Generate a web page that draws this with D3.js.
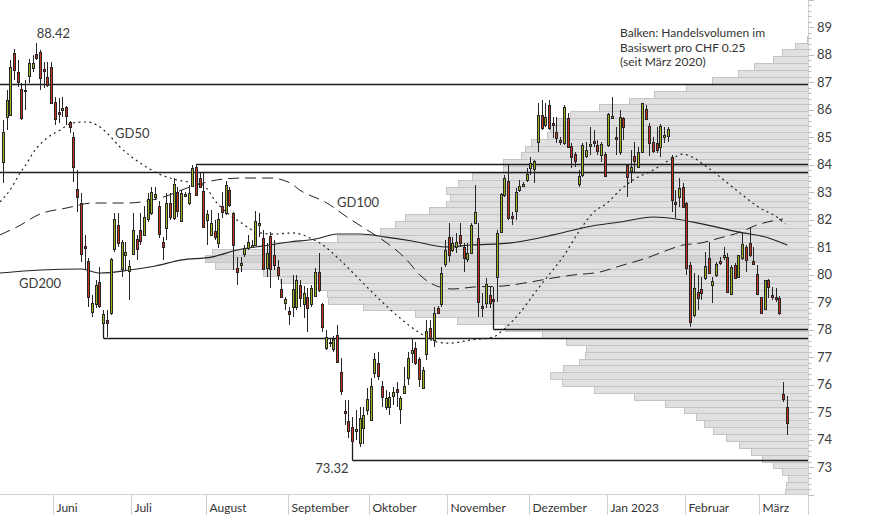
<!DOCTYPE html>
<html><head><meta charset="utf-8">
<script src="https://cdn.jsdelivr.net/npm/d3@7"></script>
<style>
body{margin:0;background:#fff}
svg{display:block;font-family:Lato,'Open Sans',sans-serif}
</style>
</head><body>
<svg id="chart" width="874" height="515"></svg>
<script>
// ---------- DATA ----------
const opens=[84.10,85.74,85.81,88.07,87.38,86.76,86.72,87.23,87.52,88.03,
88.11,87.49,87.20,87.56,86.29,85.92,86.00,86.11,85.56,85.01,
83.12,82.61,81.05,80.50,78.64,78.93,79.74,78.24,78.35,78.61,
80.94,81.81,80.21,80.72,80.14,80.75,81.30,81.63,81.45,82.03,
82.25,82.83,82.50,81.19,81.70,82.61,82.06,83.01,81.96,82.87,
82.61,83.23,83.92,83.52,83.05,81.99,81.45,81.59,81.15,82.50,
82.25,83.08,82.25,80.24,80.35,80.75,80.97,81.01,81.08,81.81,
81.34,80.24,81.41,80.72,80.28,79.48,78.97,78.68,78.82,78.82,
79.63,78.93,79.19,78.93,79.23,80.10,78.93,77.33,77.55,77.30,
77.81,76.46,75.04,74.67,74.46,74.31,73.87,74.42,75.08,74.71,
76.42,76.79,75.95,75.18,75.18,75.58,75.84,75.11,75.69,76.24,
77.15,77.33,76.93,75.88,77.11,78.06,77.62,78.79,78.93,80.39,
81.37,80.90,81.01,81.45,81.01,80.57,80.79,81.88,81.34,78.86,
78.97,79.26,79.12,79.92,81.55,82.90,83.41,82.14,82.32,83.08,
83.23,83.45,83.88,83.85,84.83,85.81,85.45,86.18,85.52,85.19,
84.90,84.79,85.70,84.69,84.39,83.30,83.63,84.32,84.69,84.87,
84.72,84.36,84.39,84.72,85.70,85.01,84.47,85.70,83.99,83.78,
84.32,83.92,84.47,86.03,85.41,84.83,84.79,84.65,85.01,85.05,
84.28,82.65,82.83,83.19,82.61,80.35,78.53,79.37,79.48,79.88,
80.61,79.63,79.99,80.50,80.64,80.64,79.30,80.35,79.92,80.61,
81.01,81.15,80.50,80.03,79.19,78.75,79.81,79.26,79.19,79.15,
75.66,75.18];
const highs=[85.63,86.72,87.82,88.22,87.82,86.98,87.09,87.85,88.00,88.42,
88.18,87.74,87.74,87.74,86.47,86.43,86.47,86.14,85.60,85.19,
83.81,82.97,81.45,80.61,79.26,79.81,80.28,78.72,78.72,80.61,
82.25,82.25,81.26,81.19,80.54,82.25,81.45,82.25,82.50,82.97,
83.19,83.19,82.68,81.37,82.97,82.97,83.52,83.19,83.08,83.01,
83.27,83.99,84.03,83.70,83.70,82.36,82.36,81.99,82.25,83.01,
83.41,83.19,82.28,80.64,80.64,81.08,81.45,81.26,82.32,82.25,
81.63,81.15,81.55,81.26,80.54,79.84,79.19,78.82,79.99,79.99,
79.81,79.59,79.52,79.63,80.24,80.79,78.97,77.99,77.70,77.77,
78.17,76.97,75.44,75.44,74.82,75.08,75.18,75.18,75.88,76.24,
77.15,77.19,76.13,75.80,75.73,75.91,76.09,75.58,76.64,77.19,
77.70,77.55,77.00,76.64,78.35,78.35,78.82,78.86,80.28,81.26,
81.88,81.37,81.52,81.88,81.15,81.15,81.88,83.27,81.88,79.33,
79.88,79.55,79.55,81.63,82.97,83.63,83.99,82.28,83.16,83.45,
83.37,83.88,84.29,84.18,86.25,86.36,86.25,86.36,85.74,85.74,
85.01,86.18,85.89,84.79,84.47,83.81,84.79,84.83,85.38,85.27,
84.90,84.83,84.47,85.89,86.47,85.38,86.00,85.74,83.99,84.54,
84.83,84.65,86.25,86.18,85.52,85.01,85.38,85.49,85.38,85.38,
84.36,83.08,83.52,83.34,82.65,80.46,80.06,79.99,79.92,80.83,
81.19,79.92,80.46,80.64,81.01,80.79,80.35,80.43,80.72,81.52,
81.08,81.74,81.01,80.35,79.19,79.81,79.84,79.55,79.52,79.23,
76.09,75.58];
const lows=[83.34,85.27,85.78,87.09,86.83,85.63,86.00,86.98,87.38,87.82,
86.72,86.80,86.83,86.21,85.45,85.52,85.74,85.45,85.16,83.37,
82.28,80.46,80.17,78.82,78.46,78.79,78.79,78.21,77.73,78.53,
80.83,81.01,79.92,80.17,79.08,80.72,80.54,81.08,81.41,81.92,
82.17,82.72,81.34,80.54,81.26,81.99,81.99,82.10,81.92,82.83,
82.54,83.19,82.87,83.16,81.70,81.08,81.41,81.26,80.97,82.06,
82.17,82.46,80.17,79.63,80.10,80.64,80.90,80.97,81.04,81.37,
80.17,79.92,79.52,80.17,79.81,79.15,78.72,78.17,78.46,78.72,
78.82,78.42,77.91,78.82,79.19,79.37,77.91,77.26,77.37,77.19,
76.82,75.62,74.53,74.06,73.95,73.98,73.73,73.84,74.89,74.71,
76.24,76.17,75.18,75.08,74.89,75.26,75.18,74.57,75.69,75.99,
76.79,76.71,75.91,75.88,76.90,77.62,77.37,78.57,78.82,80.28,
80.46,80.83,80.79,81.01,80.10,80.46,80.79,81.88,78.46,78.46,
78.79,78.79,79.01,79.01,81.52,82.83,81.99,81.81,81.99,83.01,
83.19,83.37,83.63,83.34,84.47,85.27,85.38,85.27,84.98,84.79,
84.72,84.72,84.61,83.88,83.92,83.19,83.56,84.25,84.36,84.65,
84.36,84.10,83.56,84.65,85.70,84.36,84.36,84.90,82.83,83.34,
83.74,83.88,84.43,85.63,84.32,84.43,84.43,84.28,84.79,84.83,
82.28,82.06,82.46,82.46,79.99,78.10,78.46,78.72,79.08,79.81,
80.06,78.97,79.92,80.35,80.54,79.33,79.26,79.84,79.88,80.54,
80.10,80.64,80.35,79.26,78.61,78.72,79.15,79.08,79.01,78.53,
75.37,74.17];
const closes=[85.19,86.36,87.56,87.45,87.02,85.70,86.69,87.71,87.71,87.89,
87.16,87.42,86.91,86.25,85.67,85.85,86.07,85.78,85.38,83.92,
82.83,80.75,80.97,79.19,78.97,79.63,78.86,78.57,78.24,80.57,
82.03,81.15,81.19,80.83,80.32,81.63,80.94,81.23,82.10,82.76,
83.01,82.94,81.48,81.01,82.61,82.10,83.30,82.32,82.97,82.94,
82.97,83.88,82.90,83.19,81.74,82.21,81.88,81.37,82.03,82.28,
83.27,82.54,81.08,80.10,80.43,80.97,81.19,81.08,81.96,81.88,
80.21,80.79,80.21,80.35,79.99,79.19,79.12,78.57,79.48,79.81,
79.15,79.33,78.79,79.52,80.10,79.44,78.10,77.73,77.51,77.66,
76.82,75.77,74.97,74.31,73.95,74.38,74.78,74.89,75.48,75.95,
76.93,76.31,75.55,75.51,75.55,75.73,75.73,75.51,75.95,76.97,
77.26,76.79,76.20,76.53,77.95,77.70,78.61,78.61,80.06,80.90,
80.72,81.15,81.19,81.15,80.61,80.79,81.81,82.28,79.01,78.79,
79.66,78.97,79.04,81.52,82.94,83.52,82.06,82.06,83.01,83.23,
83.30,83.67,84.07,84.14,85.81,85.34,85.74,85.34,85.45,84.98,
84.83,86.11,84.65,84.28,84.14,83.59,84.72,84.54,84.76,84.79,
84.50,84.76,83.59,85.85,85.78,84.94,85.74,85.38,83.56,83.92,
84.14,84.47,86.25,85.67,84.79,84.50,84.54,85.41,85.09,85.30,
82.72,82.57,83.16,82.46,80.24,78.28,79.52,79.15,79.33,80.32,
80.06,79.77,80.39,80.43,80.72,79.37,80.28,79.88,80.72,81.12,
80.54,80.72,80.39,79.30,78.61,79.81,79.55,79.19,79.12,78.61,
75.48,74.60];

// moving averages: [candle index, value]
const gd50=[[-0.9,82.65],[1.8,83.08],[4.5,83.70],[6.4,84.07],[8,84.43],[11.8,84.98],[15.3,85.27],[18.5,85.52],[22.5,85.56],[25.2,85.45],[27.9,85.16],[31.4,84.65],[36.8,84.07],[41.4,83.70],[46.7,83.45],[50.2,83.37],[53.7,83.27],[57.5,82.61],[61,82.17],[63.7,81.92],[68.3,81.55],[72.6,81.48],[78,81.52],[82.5,81.34],[86,81.08],[90.6,80.54],[96,79.81],[101.4,79.08],[106.8,78.42],[112.1,77.88],[116.7,77.55],[120.2,77.51],[125.6,77.62],[131.8,77.73],[134.5,77.99],[139,78.61],[143.6,79.44],[147.9,80.17],[150.6,80.64],[155.2,81.63],[158.7,82.25],[162.5,82.61],[166,83.08],[169.5,83.45],[174.9,83.81],[179.4,84.18],[182.9,84.39],[184.8,84.32],[189.4,83.92],[192.9,83.56],[198.3,82.97],[203.6,82.43],[208.2,82.10],[210.4,81.85]];
const gd100=[[-0.9,81.45],[3.7,81.74],[9.9,82.21],[17.1,82.43],[24.1,82.61],[33.3,82.61],[42.2,82.79],[50.2,83.19],[57.5,83.45],[64.5,83.52],[71.8,83.52],[77.2,83.34],[79.8,83.08],[87.1,82.61],[92.5,82.10],[97.9,81.63],[103.3,81.15],[108.6,80.54],[112.1,79.99],[117.5,79.55],[121,79.48],[126.4,79.55],[134.5,79.59],[141.7,79.73],[147.9,79.88],[153.3,79.99],[160.6,80.10],[166,80.32],[173.2,80.61],[177.5,80.83],[182.9,81.08],[187.5,81.15],[192.9,81.34],[198.3,81.55],[202.8,81.81],[208.2,81.99],[209.8,82.03]];
const gd200=[[-0.9,80.06],[10,80.17],[21,80.21],[26,80.06],[34,80.17],[41,80.32],[48,80.54],[56,80.64],[63,80.90],[70,81.05],[77,81.19],[84,81.30],[90,81.48],[96,81.48],[103,81.37],[110,81.23],[119,81.01],[126,81.08],[136,81.15],[148,81.45],[157,81.74],[166,81.92],[175,82.10],[181,82.03],[188,81.85],[198,81.55],[206,81.34],[211,81.08]];

// volume profile, bars per CHF 0.25 (relative volume), from the lowest band upward
const profileBase=71.95, profileStep=0.25;
const profileVol=[23,22,20,26,35,46,57,69,82,95,104,112,124,143,174,214,246,258,245,229,223,222,242,266,303,351,393,445,480,481,488,528,545,593,603,596,538,471,428,413,403,379,362,358,362,350,336,305,305,287,283,277,261,258,252,238,209,179,154,122,96,70,54,35,26,13,1];

// horizontal level lines: value, start candle (-1 = from the left edge), anchor price on that candle
const levelValues=[86.93,84.03,83.73,78.01,77.69,73.25];
const levelStart=[-1,52,-1,132,27,94];
const levelAnchor=[null,84.03,null,79.01,78.21,73.95];

const monthLabels=["Juni","Juli","August","September","Oktober","November","Dezember","Jan 2023","Februar","März"];
const monthStart=[14,35,55,77,99,120,142,163,184,204];
const yTickLabels=[73,74,75,76,77,78,79,80,81,82,83,84,85,86,87,88,89];

// ---------- CHART ----------
const svg=d3.select("#chart");
const W=874,H=515, plotL=0, plotR=808, plotB=494.5;
const N=opens.length;
const x=d3.scaleLinear().domain([0,N-1]).range([3.3,787.3]);
const y=d3.scaleLinear().domain([72,90]).range([plotB,0]);
const step=x(1)-x(0);
const maxVol=d3.max(profileVol);
const v=d3.scaleLinear().domain([0,maxVol]).range([plotR,205]);

svg.append("defs").append("clipPath").attr("id","clip")
  .append("rect").attr("x",plotL).attr("y",0).attr("width",plotR-plotL).attr("height",plotB);

// volume profile
const maxIdx=profileVol.indexOf(maxVol);
svg.append("g").selectAll("rect").data(profileVol).join("rect")
  .attr("x",d=>v(d)+0.5)
  .attr("y",(d,i)=>Math.round(y(profileBase+profileStep*(i+1)))+0.5)
  .attr("width",d=>plotR-v(d))
  .attr("height",(d,i)=>Math.round(y(profileBase+profileStep*i))-Math.round(y(profileBase+profileStep*(i+1))))
  .attr("fill",(d,i)=>i===maxIdx?"#d2d2d2":"#e0e0e0")
  .attr("stroke","#c4c4c4").attr("stroke-width",1)
  .attr("clip-path","url(#clip)");

// axes lines
svg.append("line").attr("x1",0).attr("x2",plotR).attr("y1",494.5).attr("y2",494.5).attr("stroke","#d0d0d0");
svg.append("line").attr("x1",plotR+0.5).attr("x2",plotR+0.5).attr("y1",0).attr("y2",H).attr("stroke","#d0d0d0");

// y axis ticks
const minor=d3.range(72,90.01,0.2);
svg.append("g").selectAll("line").data(minor).join("line")
  .attr("x1",plotR+0.5).attr("x2",d=>Math.abs(d-Math.round(d))<1e-6?plotR+6:plotR+3.5)
  .attr("y1",d=>Math.round(y(d))+0.5).attr("y2",d=>Math.round(y(d))+0.5)
  .attr("stroke","#bdbdbd");
svg.append("g").selectAll("text").data(yTickLabels).join("text")
  .attr("x",817).attr("y",d=>y(d)).attr("dy","0.35em")
  .attr("font-size",13).attr("fill","#3c3c3c").text(d=>d);

// month ticks
const mg=svg.append("g");
monthStart.forEach((m,i)=>{
  const xm=Math.round(x(m)-step/2)+0.5;
  mg.append("line").attr("x1",xm).attr("x2",xm).attr("y1",494.5).attr("y2",H).attr("stroke","#d0d0d0");
  mg.append("text").attr("x",xm+3).attr("y",512).attr("font-size",12).attr("fill","#333").text(monthLabels[i]);
});

// moving averages
const line=d3.line().x(d=>x(d[0])).y(d=>y(d[1])).curve(d3.curveMonotoneX);
const ma=svg.append("g").attr("clip-path","url(#clip)").attr("fill","none").attr("stroke","#222");
ma.append("path").attr("d",line(gd200)).attr("stroke-width",1.1);
ma.append("path").attr("d",line(gd100)).attr("stroke-width",1).attr("stroke-dasharray","11,6");
ma.append("path").attr("d",line(gd50)).attr("stroke-width",1.2).attr("stroke-dasharray","2,3.5");

// level lines
const lg=svg.append("g").attr("stroke","#1c1c1c").attr("stroke-width",1.3);
levelValues.forEach((lv,i)=>{
  const ly=Math.round(y(lv))+0.5;
  const sx=levelStart[i]<0?plotL:Math.floor(x(levelStart[i]))+0.5;
  lg.append("line").attr("x1",sx).attr("x2",plotR).attr("y1",ly).attr("y2",ly);
  if(levelAnchor[i]!==null){
    lg.append("line").attr("x1",sx).attr("x2",sx).attr("y1",y(levelAnchor[i])).attr("y2",ly);
  }
});

// candles
const cg=svg.append("g").attr("shape-rendering","crispEdges");
d3.range(N).forEach(i=>{
  const o=opens[i],c=closes[i],h=highs[i],l=lows[i];
  const px=Math.floor(x(i));
  cg.append("line").attr("x1",px+0.5).attr("x2",px+0.5).attr("y1",y(h)).attr("y2",y(l)).attr("stroke","#262626");
  const top=Math.round(y(Math.max(o,c))), bot=Math.round(y(Math.min(o,c)));
  cg.append("rect").attr("x",px-0.5).attr("y",top+0.5).attr("width",2).attr("height",Math.max(1,bot-top))
    .attr("fill",c>=o?"#9db21c":"#c3351f").attr("stroke","#262626").attr("stroke-width",1);
});

// labels
const tg=svg.append("g").attr("font-size",13).attr("fill","#3a3a3a");
tg.append("text").attr("x",x(9)).attr("y",y(highs[9])-5).text(d3.max(highs).toFixed(2));
tg.append("text").attr("x",115).attr("y",138).text("GD50");
tg.append("text").attr("x",337).attr("y",207).text("GD100");
tg.append("text").attr("x",19).attr("y",288).text("GD200");
tg.append("text").attr("x",x(94)-4).attr("y",y(73.25)+13).attr("text-anchor","end").text("73.32");

const info=["Balken: Handelsvolumen im","Basiswert pro CHF 0.25","(seit März 2020)"];
svg.append("g").attr("font-size",12).attr("fill","#333").selectAll("text").data(info).join("text")
  .attr("x",620).attr("y",(d,i)=>37+i*14.5).text(d=>d);
</script>
</body></html>
